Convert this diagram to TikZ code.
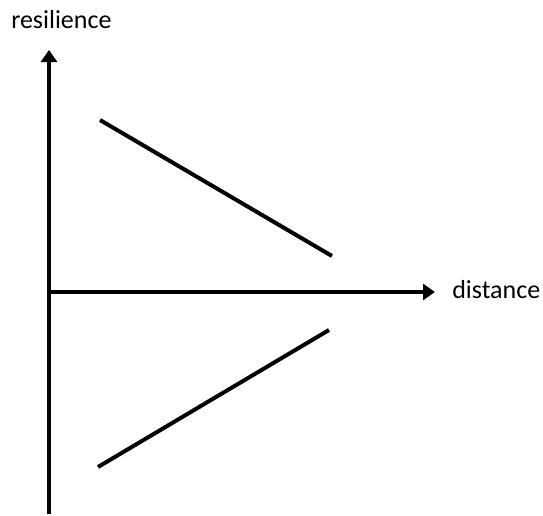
\documentclass[tikz,border=0pt]{standalone}
\usepackage{fontspec}
\setmainfont{Carlito}
\usetikzlibrary{arrows.meta}

\begin{document}
\begin{tikzpicture}[x=0.75pt,y=-0.75pt,>={Triangle[length=9pt,width=12pt]},
  ax/.style={line width=3pt},
  ln/.style={line width=3pt},
  lbl/.style={anchor=base west,inner sep=0pt,font=\fontsize{19.5}{22}\selectfont}]
  \useasboundingbox (0,0) rectangle (543,515);
  \coordinate (o) at (49,292);
  \coordinate (ytop) at (49,50);
  \coordinate (ybot) at (49,514);
  \coordinate (xend) at (435,292);
  \draw[ax,->] (ybot)--(ytop);
  \draw[ax,->] (o)--(xend);
  \node[lbl] (ylab) at (11,28) {resilience};
  \node[lbl] (xlab) at (452,298) {distance};
  % the two lines
  \coordinate (a1) at (100,120); \coordinate (a2) at (332,256);
  \coordinate (b1) at (98,467); \coordinate (b2) at (329,330);
  \draw[ln] (a1)--(a2);
  \draw[ln] (b1)--(b2);
\end{tikzpicture}
\end{document}
